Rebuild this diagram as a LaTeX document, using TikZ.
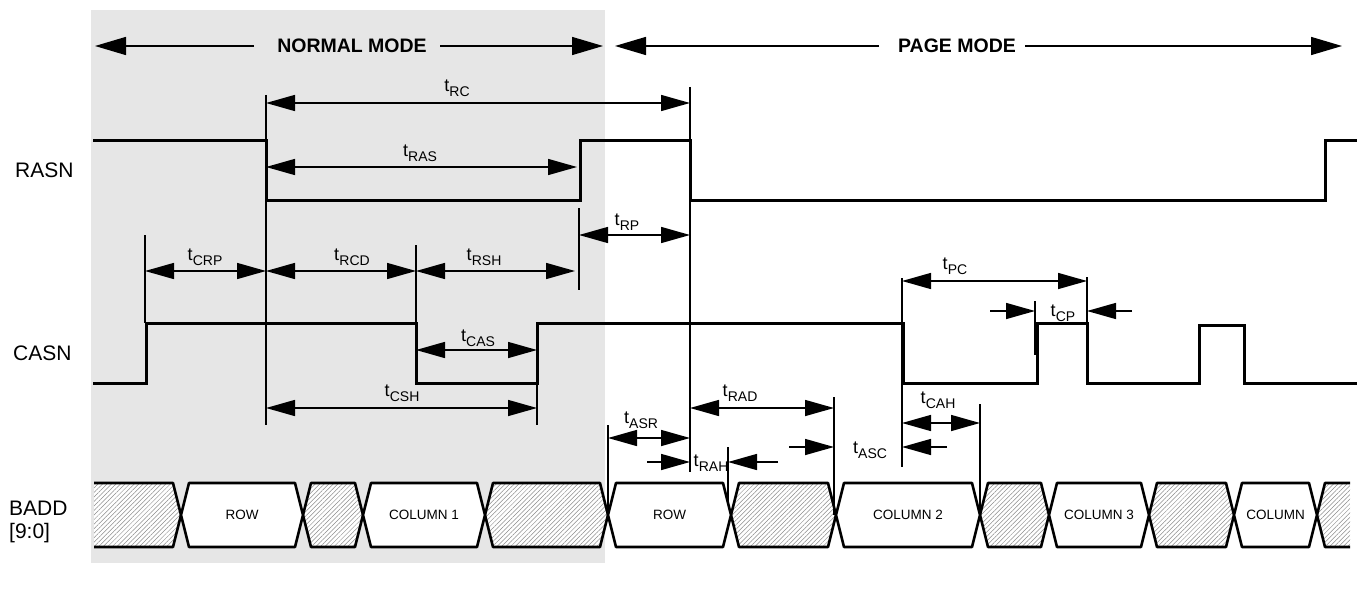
\documentclass[tikz,border=0pt]{standalone}
\usepackage{fontspec}
\setmainfont{Liberation Sans}
\usetikzlibrary{arrows.meta,patterns.meta}
\definecolor{normalbg}{RGB}{230,230,230}
% timing parameter: "t" with a lowered subscript
\newcommand\tsub[1]{t\kern0.2pt\raisebox{-5pt}{\fontsize{14}{14}\selectfont #1}}
\begin{document}
\begin{tikzpicture}[x=1pt,y=-1pt,
  wave/.style={line width=3pt,line join=miter},
  guide/.style={line width=1.8pt},
  dimarrow/.style={{Triangle[length=29pt 0,width=16pt 0]}-{Triangle[length=29pt 0,width=16pt 0]},line width=1.5pt},
  inarrow/.style={-{Triangle[length=29pt 0,width=16pt 0]},line width=1.5pt},
  modearrow/.style={-{Triangle[length=31pt 0,width=18pt 0]},line width=1.5pt},
  tlabel/.style={font=\fontsize{18}{18}\selectfont,inner sep=0pt},
  sigl/.style={font=\fontsize{21}{24}\selectfont,anchor=west,inner sep=0pt},
  model/.style={font=\bfseries\fontsize{19.5}{22}\selectfont,inner sep=0pt},
  busl/.style={font=\fontsize{13.5}{15}\selectfont,inner sep=0pt},
  bus/.style={line width=2.6pt,line join=round},
  hatch/.style={bus,preaction={fill=white},pattern={Lines[angle=45,distance=3.2pt,line width=0.5pt]},pattern color=black!45},
  valid/.style={bus,fill=white},
]
\useasboundingbox (0,0) rectangle (1365,591);

% normal-mode background
\fill[normalbg] (91,10) rectangle (605,563);

% mode headings
\node[model] (nm) at (352,46) {NORMAL MODE};
\node[model] (pm) at (957,46) {PAGE MODE};
\coordinate (nmL) at (95,46);  \coordinate (nmLs) at (254,46);
\coordinate (nmR) at (603,46); \coordinate (nmRs) at (440,46);
\coordinate (pmL) at (615,46); \coordinate (pmLs) at (879,46);
\coordinate (pmR) at (1342,46);\coordinate (pmRs) at (1025,46);
\draw[modearrow] (nmLs) -- (nmL);
\draw[modearrow] (nmRs) -- (nmR);
\draw[modearrow] (pmLs) -- (pmL);
\draw[modearrow] (pmRs) -- (pmR);

% signal names
\node[sigl] (rasn) at (15,170) {RASN};
\node[sigl] (casn) at (13,353) {CASN};
\node[sigl] (badd) at (9,508) {BADD};
\node[sigl] (bidx) at (9,533) {[9:0]};

% waveforms
\draw[wave] (93,141) -- (266,141) -- (266,200) -- (580,200) -- (580,141) -- (690,141)
  -- (690,200) -- (1325,200) -- (1325,141) -- (1357,141);
\draw[wave] (93,383) -- (146,383) -- (146,323) -- (416,323) -- (416,383) -- (537,383)
  -- (537,323) -- (903,323) -- (903,383) -- (1037,383) -- (1037,323) -- (1087,323)
  -- (1087,383) -- (1199,383) -- (1199,325) -- (1244,325) -- (1244,383) -- (1357,383);

% address bus
\def\bt{483}\def\bb{547}\def\bm{515}
\path[hatch] (94,\bt) -- (173,\bt) -- (181,\bm) -- (173,\bb) -- (94,\bb) -- cycle;
\draw[bus] (94,\bt) -- (173,\bt) -- (181,\bm) -- (173,\bb) -- (94,\bb);
\foreach \a/\b in {303/363,485/608,731/836,980/1049,1149/1234}
  \filldraw[hatch] (\a,\bm) -- (\a+8,\bt) -- (\b-8,\bt) -- (\b,\bm) -- (\b-8,\bb) -- (\a+8,\bb) -- cycle;
\path[hatch] (1317,\bm) -- (1325,\bt) -- (1350,\bt) -- (1350,\bb) -- (1325,\bb) -- cycle;
\draw[bus] (1350,\bt) -- (1325,\bt) -- (1317,\bm) -- (1325,\bb) -- (1350,\bb);
\foreach \a/\b/\t in {181/303/ROW,363/485/COLUMN 1,608/731/ROW,836/980/COLUMN 2,1049/1149/COLUMN 3,1234/1317/COLUMN}{
  \filldraw[valid] (\a,\bm) -- (\a+8,\bt) -- (\b-8,\bt) -- (\b,\bm) -- (\b-8,\bb) -- (\a+8,\bb) -- cycle;
  \node[busl] at ({(\a+\b)/2},\bm) {\t};
}

% reference edges
\draw[guide] (266,95) -- (266,425);
\draw[guide] (690,87) -- (690,472);
\draw[guide] (579,208) -- (579,290);
\draw[guide] (145,235) -- (145,323);
\draw[guide] (416,245) -- (416,323);
\draw[guide] (537,323) -- (537,425);
\draw[guide] (902,278) -- (902,467);
\draw[guide] (1087,277) -- (1087,323);
\draw[guide] (1035,301) -- (1035,355);
\draw[guide] (608,425) -- (608,\bm);
\draw[guide] (834,397) -- (834,\bm);
\draw[guide] (728,447) -- (728,505);
\draw[guide] (980,404) -- (980,\bm);

% timing intervals
\draw[dimarrow] (266,103) -- (690,103);
\draw[dimarrow] (266,167) -- (577,167);
\draw[dimarrow] (579,235) -- (690,235);
\draw[dimarrow] (145,271) -- (266,271);
\draw[dimarrow] (266,271) -- (416,271);
\draw[dimarrow] (416,271) -- (575,271);
\draw[dimarrow] (416,350) -- (537,350);
\draw[dimarrow] (266,408) -- (537,408);
\draw[dimarrow] (902,281) -- (1087,281);
\draw[dimarrow] (608,438) -- (690,438);
\draw[dimarrow] (690,408) -- (834,408);
\draw[dimarrow] (902,423) -- (980,423);
\draw[inarrow] (990,311) -- (1035,311);
\draw[inarrow] (1132,311) -- (1087,311);
\draw[inarrow] (647,462) -- (690,462);
\draw[inarrow] (778,462) -- (728,462);
\draw[inarrow] (789,447) -- (834,447);
\draw[inarrow] (947,447) -- (902,447);

% interval names
\node[tlabel] (lrc)  at (457,88)  {\tsub{RC}};
\node[tlabel] (lras) at (420,153) {\tsub{RAS}};
\node[tlabel] (lrp)  at (627,222) {\tsub{RP}};
\node[tlabel] (lcrp) at (205,257) {\tsub{CRP}};
\node[tlabel] (lrcd) at (352,257) {\tsub{RCD}};
\node[tlabel] (lrsh) at (484,257) {\tsub{RSH}};
\node[tlabel] (lpc)  at (955,266) {\tsub{PC}};
\node[tlabel] (lcp)  at (1063,313) {\tsub{CP}};
\node[tlabel] (lcas) at (478,338) {\tsub{CAS}};
\node[tlabel] (lcsh) at (402,393) {\tsub{CSH}};
\node[tlabel] (lrad) at (740,393) {\tsub{RAD}};
\node[tlabel] (lcah) at (938,400) {\tsub{CAH}};
\node[tlabel] (lasr) at (641,420) {\tsub{ASR}};
\node[tlabel] (lasc) at (870,450) {\tsub{ASC}};
\node[tlabel] (lrah) at (711,463) {\tsub{RAH}};
\end{tikzpicture}
\end{document}
